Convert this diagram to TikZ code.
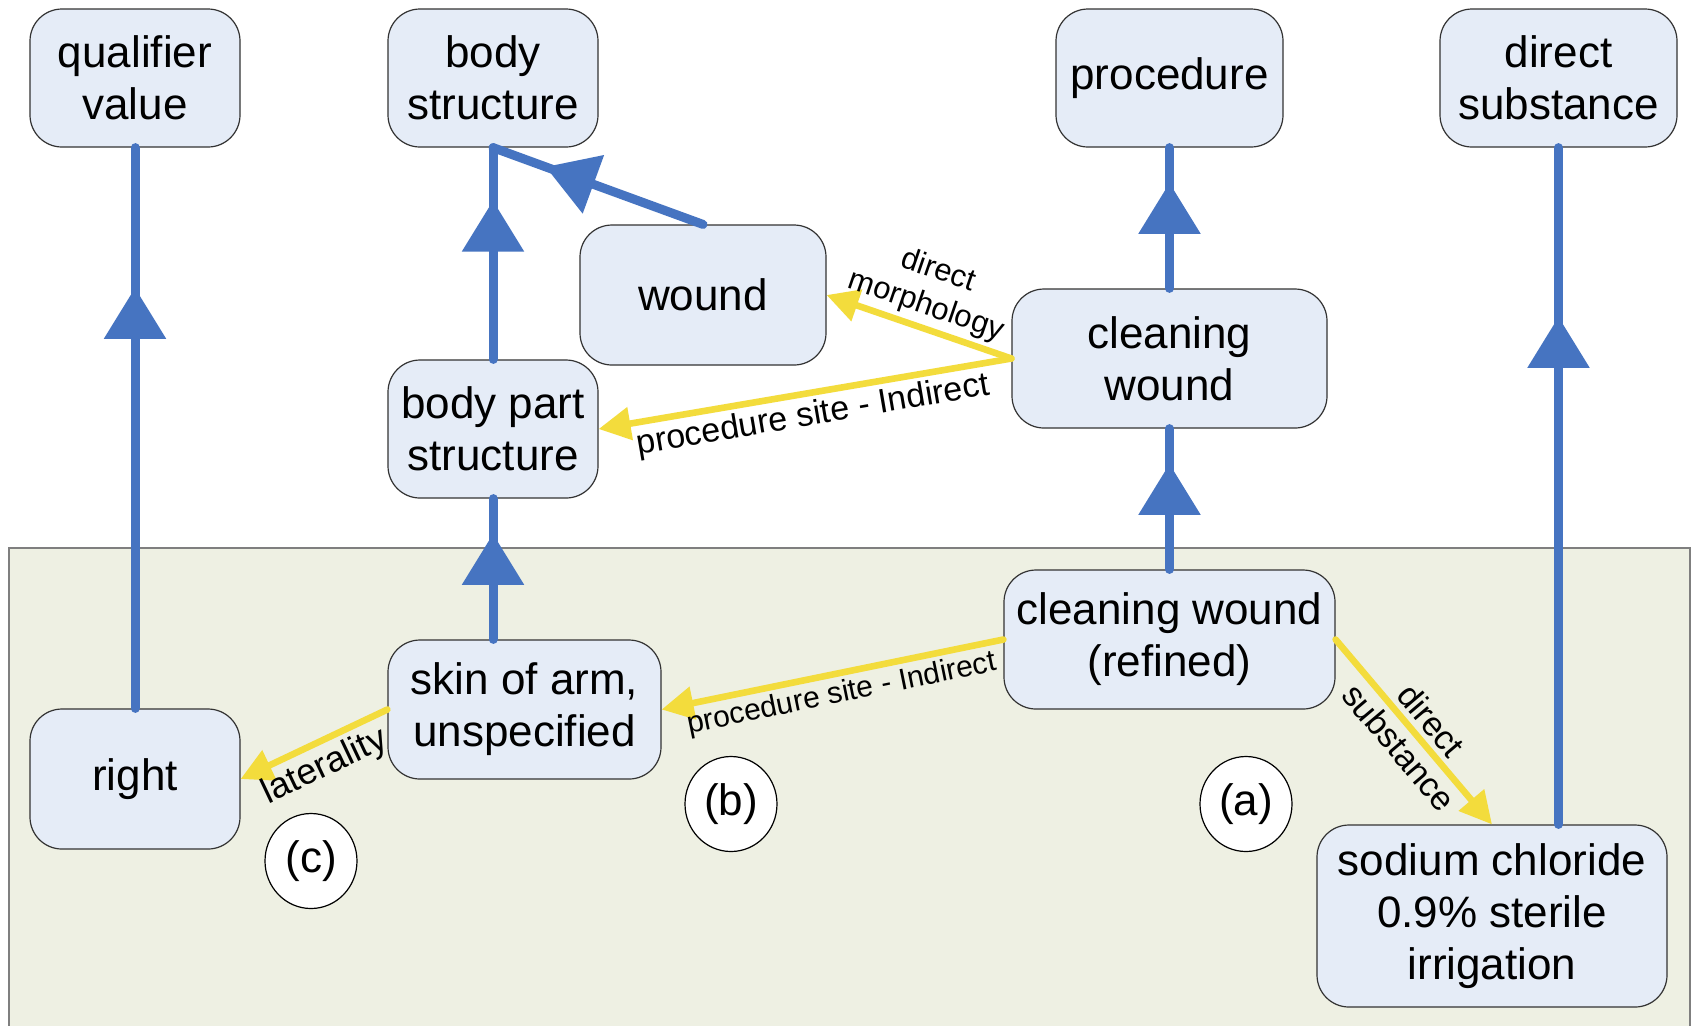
\documentclass[tikz,border=0pt]{standalone}
\usepackage{fontspec}
\setmainfont{Liberation Sans}
\usetikzlibrary{arrows.meta,decorations.markings,shapes.geometric}

\definecolor{isablue}{HTML}{4674C1}
\definecolor{attryellow}{HTML}{F3DC3C}
\definecolor{conceptfill}{HTML}{E5ECF7}
\definecolor{panelfill}{HTML}{EEF0E3}
\definecolor{panelline}{HTML}{7F7F7F}

\tikzset{
  concept/.style={draw=black!80, line width=0.6pt, fill=conceptfill,
    rounded corners=16pt, align=center, inner sep=0pt,
    font=\fontsize{22}{26}\selectfont},
  tag/.style={ellipse, draw=black, line width=0.6pt, fill=white,
    minimum width=46pt, minimum height=47.5pt, inner sep=0pt,
    font=\fontsize{22}{26}\selectfont},
  isa/.style={isablue, line width=4.5pt, line cap=round,
    postaction={decorate},
    decoration={markings, mark=at position 0.75 with
      {\arrow{Triangle[width=30pt,length=25.5pt]}}}},
  attr/.style={attryellow, line width=3.3pt, line cap=round,
    -{Triangle[width=16pt,length=16pt]}},
  lbl/.style={text=black, sloped, inner sep=2pt, align=center}
}

\begin{document}
\begin{tikzpicture}[x=0.5pt, y=-0.5pt]
  \clip (0,0) rectangle (1698,1025);
  \fill[white] (0,0) rectangle (1698,1025);

  % refined-concept panel
  \draw[panelline, fill=panelfill, line width=0.8pt] (9,548) rectangle (1690,1060);

  % concepts
  \node[concept, minimum width=105pt, minimum height=69pt] (qual) at (135,78) {qualifier\\value};
  \node[concept, minimum width=105pt, minimum height=69pt] (bs) at (493,78) {body\\structure};
  \node[concept, minimum width=113.5pt, minimum height=69pt] (proc) at (1169.5,78) {procedure};
  \node[concept, minimum width=118.5pt, minimum height=69pt] (ds) at (1558.5,78) {direct\\substance};
  \node[concept, minimum width=123pt, minimum height=70pt] (wound) at (703,295) {wound};
  \node[concept, minimum width=157.5pt, minimum height=69.5pt] (cw) at (1169.5,358.5) {cleaning\\wound};
  \node[concept, minimum width=105pt, minimum height=69pt] (bps) at (493,429) {body part\\structure};
  \node[concept, minimum width=165.5pt, minimum height=69.5pt] (refined) at (1169.5,639.5) {cleaning wound\\(refined)};
  \node[concept, minimum width=136.5pt, minimum height=69.5pt] (skin) at (524.5,709.5) {skin of arm,\\unspecified};
  \node[concept, minimum width=105pt, minimum height=70pt] (right) at (135,779) {right};
  \node[concept, minimum width=175pt, minimum height=91pt] (sodium) at (1492,916) {sodium chloride\\0.9\% sterile\\irrigation};

  % markers
  \node[tag] (tagc) at (311,861) {(c)};
  \node[tag] (tagb) at (731,804) {(b)};
  \node[tag] (taga) at (1246,804) {(a)};

  % is-a links
  \draw[isa] (right.north) -- (qual.south);
  \draw[isa] (bps.south |- skin.north) -- (bps.south);
  \draw[isa] (bps.north) -- (bs.south);
  \draw[isa] (wound.north) -- (bs.south);
  \draw[isa] (cw.north) -- (proc.south);
  \draw[isa] (refined.north) -- (cw.south);
  \draw[isa] (ds.south |- sodium.north) -- (ds.south);

  % attribute links
  \draw[attr] (cw.west) -- node[lbl, above, pos=0.5, font=\fontsize{15.5}{18.5}\selectfont] {direct\\morphology} (wound.east);
  \draw[attr] (cw.west) -- node[lbl, below, pos=0.49, font=\fontsize{17}{20}\selectfont] {procedure site - Indirect} (bps.east);
  \draw[attr] (refined.west) -- node[lbl, below, pos=0.485, font=\fontsize{15}{18}\selectfont] {procedure site - Indirect} (skin.east);
  \draw[attr] (skin.west) -- node[lbl, below, pos=0.5, inner sep=2.5pt, font=\fontsize{18}{21}\selectfont] {laterality} (right.east);
  \draw[attr] (refined.east) -- node[lbl, pos=0.51, font=\fontsize{17}{21}\selectfont] {direct\\substance} (sodium.north);
\end{tikzpicture}
\end{document}
